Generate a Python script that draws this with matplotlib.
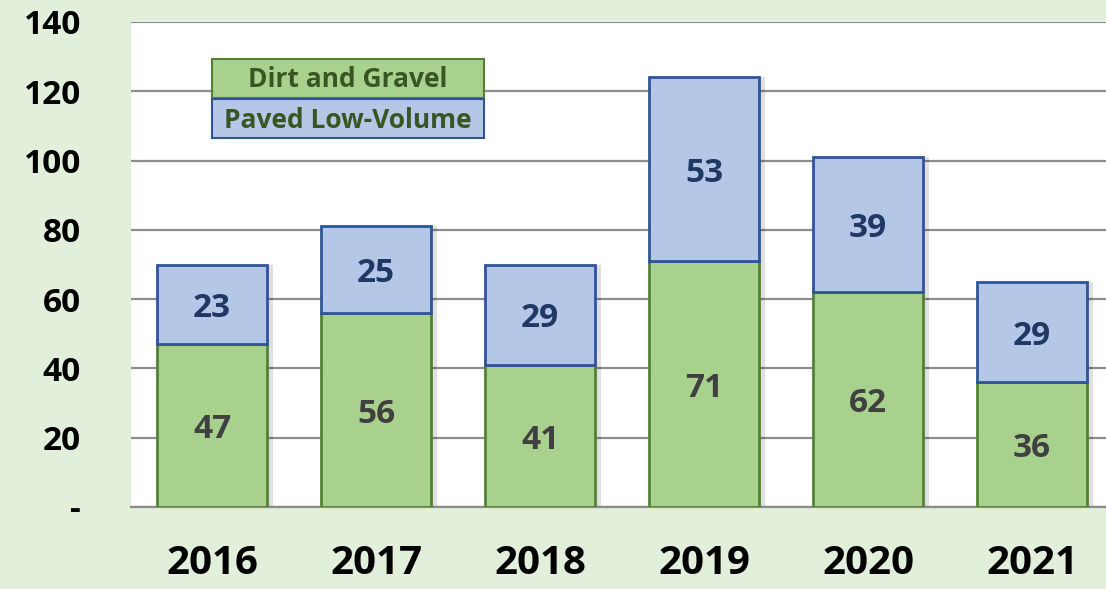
import numpy as np
import matplotlib.pyplot as plt
from matplotlib.patches import Rectangle

# 데이터
years = ["2016", "2017", "2018", "2019", "2020", "2021"]
dirt_gravel = [47, 56, 41, 71, 62, 36]
paved_low = [23, 25, 29, 53, 39, 29]
yticks = [0, 20, 40, 60, 80, 100, 120, 140]
ytick_labels = ["-", "20", "40", "60", "80", "100", "120", "140"]

# 색상
bg = "#e2efda"
green_fill, green_edge = "#a9d18e", "#548235"
blue_fill, blue_edge = "#b4c7e7", "#2f5597"
font = "Open Sans"

fig = plt.figure(figsize=(11.06, 5.89), dpi=100, facecolor=bg)
ax = fig.add_axes([131 / 1106, 82 / 589, 975 / 1106, 485 / 589])
ax.set_facecolor("white")

x = np.arange(len(years))
w = 0.67

# 그림자 (Excel 스타일)
totals = np.array(dirt_gravel) + np.array(paved_low)
ax.bar(x + 0.035, totals, w, color="#000000", alpha=0.12, zorder=2, linewidth=0)

b1 = ax.bar(x, dirt_gravel, w, color=green_fill, edgecolor=green_edge, linewidth=2, zorder=3)
b2 = ax.bar(x, paved_low, w, bottom=dirt_gravel, color=blue_fill, edgecolor=blue_edge,
            linewidth=2, zorder=3)

for i in range(len(years)):
    ax.annotate(str(dirt_gravel[i]), (x[i], dirt_gravel[i] / 2), xytext=(0, -3),
                textcoords="offset points", ha="center", va="center", fontsize=24,
                fontweight="bold", color="#404040", family=font, zorder=4)
    ax.annotate(str(paved_low[i]), (x[i], dirt_gravel[i] + paved_low[i] / 2), xytext=(0, -3),
                textcoords="offset points", ha="center", va="center", fontsize=24,
                fontweight="bold", color="#203864", family=font, zorder=4)

ax.set_xlim(-0.494, 5.45)
ax.set_ylim(0, 140)
ax.set_yticks(yticks)
ax.set_yticklabels(ytick_labels)
ax.set_xticks(x)
ax.set_xticklabels(years)
for lbl in ax.get_yticklabels():
    lbl.set_fontsize(24)
    lbl.set_fontweight("bold")
    lbl.set_family(font)
for lbl in ax.get_xticklabels():
    lbl.set_fontsize(29)
    lbl.set_fontweight("bold")
    lbl.set_family(font)
ax.tick_params(axis="y", length=0, pad=36)
ax.tick_params(axis="x", length=0, pad=27)

ax.grid(axis="y", color="#8c8c8c", linewidth=1.6, zorder=1)
ax.set_axisbelow(True)
for s in ["left", "right", "top"]:
    ax.spines[s].set_visible(False)
ax.spines["bottom"].set_color("#8c8c8c")
ax.spines["bottom"].set_linewidth(1.6)

# 범례 (박스 형태)
W, H = 1106, 589
for (label, fc, ec, top) in [("Dirt and Gravel", green_fill, green_edge, 59),
                             ("Paved Low-Volume", blue_fill, blue_edge, 99)]:
    fig.patches.append(Rectangle((212 / W, (H - top - 39) / H), 272 / W, 39 / H,
                                 transform=fig.transFigure, facecolor=fc, edgecolor=ec,
                                 linewidth=1.5, zorder=5))
    fig.text(348 / W, (H - top - 21) / H, label, ha="center", va="center", fontsize=19,
             fontweight="bold", color="#375623", family=font, zorder=6)

fig.savefig("out.png", dpi=100, facecolor=bg)
